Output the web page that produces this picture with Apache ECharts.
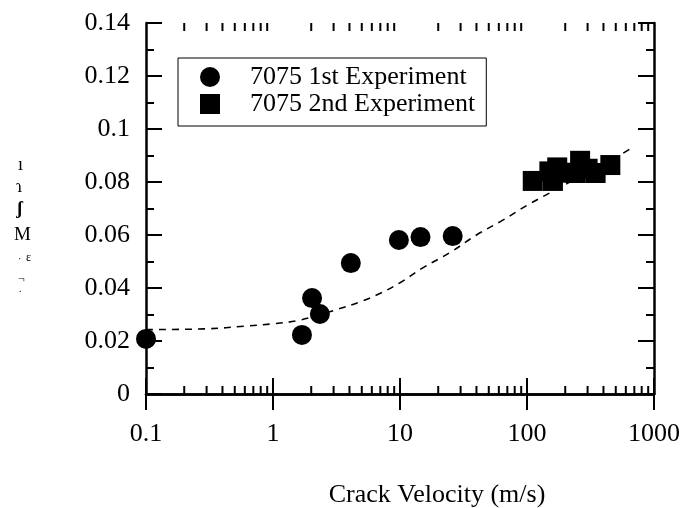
<!DOCTYPE html>
<html>
<head>
<meta charset="utf-8">
<script src="https://cdn.jsdelivr.net/npm/echarts@6/dist/echarts.min.js"></script>
<style>html,body{margin:0;padding:0;background:#fff}#c{width:683px;height:508px}</style>
</head>
<body>
<div id="c"></div>
<script>
// ---- data ----
const exp1Velocity = [0.1, 1.69, 2.03, 2.34, 4.1, 9.8, 14.5, 26];
const exp1Value    = [0.0208, 0.0223, 0.0362, 0.0302, 0.0494, 0.0581, 0.0592, 0.0596];
const exp2Velocity = [111, 150, 160, 173, 200, 242, 262, 300, 347, 453];
const exp2Value    = [0.0804, 0.0840, 0.0804, 0.0855, 0.0835, 0.0834, 0.0880, 0.0850, 0.0834, 0.0864];
const fitVelocity  = [0.1, 0.3, 0.6, 1, 1.6, 3, 5, 7, 10, 15, 25, 40, 65, 100, 150, 250, 400, 700];
const fitValue     = [0.0243, 0.0246, 0.0256, 0.0265, 0.0278, 0.0315, 0.035, 0.038, 0.042, 0.0475, 0.0535, 0.06, 0.0657, 0.0712, 0.0758, 0.0815, 0.0865, 0.0935];
const xMinorTicks  = [0.2,0.3,0.4,0.5,0.6,0.7,0.8,0.9, 2,3,4,5,6,7,8,9, 20,30,40,50,60,70,80,90, 200,300,400,500,600,700,800,900];
const seriesNames  = ['7075 1st Experiment', '7075 2nd Experiment'];
const xTitle = 'Crack Velocity (m/s)';

const FONT = 'Liberation Serif';
const FS = 26;
const chart = echarts.init(document.getElementById('c'), null, {renderer: 'canvas'});

const axisCommon = {
  axisLine: {show: true, lineStyle: {color: '#000', width: 2.5}},
  axisTick: {show: true, inside: true, length: 16, lineStyle: {color: '#000', width: 2}},
  splitLine: {show: false}
};

const fmt = v => String(+(+v).toPrecision(6));

chart.setOption({
  animation: false,
  grid: {left: 146, right: 29, top: 23, bottom: 114, containLabel: false},
  xAxis: [
    Object.assign({type: 'log', logBase: 10, min: 0.1, max: 1000, position: 'bottom',
      axisLabel: {show: true, color: '#000', fontFamily: FONT, fontSize: FS, margin: 27, formatter: fmt}}, axisCommon),
    Object.assign({type: 'log', logBase: 10, min: 0.1, max: 1000, position: 'top',
      axisLabel: {show: false}}, axisCommon)
  ],
  yAxis: [
    Object.assign({type: 'value', min: 0, max: 0.14, interval: 0.02, position: 'left',
      minorTick: {show: true, splitNumber: 2, length: 8, lineStyle: {color: '#000', width: 2}},
      axisLabel: {show: true, color: '#000', fontFamily: FONT, fontSize: FS, margin: 16, formatter: fmt}}, axisCommon),
    Object.assign({type: 'value', min: 0, max: 0.14, interval: 0.02, position: 'right',
      minorTick: {show: true, splitNumber: 2, length: 8, lineStyle: {color: '#000', width: 2}},
      axisLabel: {show: false}}, axisCommon)
  ],
  legend: {
    data: seriesNames,
    orient: 'vertical',
    left: 178, top: 58,
    padding: [6, 11, 9, 22],
    itemGap: 1,
    itemWidth: 20, itemHeight: 20,
    borderColor: '#000', borderWidth: 1,
    textStyle: {color: '#000', fontFamily: FONT, fontSize: FS, padding: [0, 0, 0, 25]},
    selectedMode: false
  },
  graphic: [
    {type: 'text', x: 437, y: 482, style: {text: xTitle, font: FS + 'px ' + FONT, fill: '#000', textAlign: 'center'}},
    {type: 'text', x: 18, y: 156, style: {text: 'ı', font: '18px ' + FONT, fill: '#000'}},
    {type: 'text', x: 16, y: 178, style: {text: 'ɿ', font: '18px ' + FONT, fill: '#000'}},
    {type: 'text', x: 17, y: 200, style: {text: 'ʃ', font: 'bold 18px ' + FONT, fill: '#000'}},
    {type: 'text', x: 14, y: 226, style: {text: 'M', font: '19px ' + FONT, fill: '#000'}},
    {type: 'text', x: 18, y: 254, style: {text: '·', font: '10px ' + FONT, fill: '#000'}},
    {type: 'text', x: 26, y: 252, style: {text: 'ε', font: '12px ' + FONT, fill: '#000'}},
    {type: 'text', x: 18, y: 274, style: {text: '¬', font: '12px ' + FONT, fill: '#000'}},
    {type: 'text', x: 19, y: 284, style: {text: '.', font: '10px ' + FONT, fill: '#000'}}
  ],
  series: [
    {
      name: 'fit', type: 'line', smooth: 0.4, showSymbol: false, symbol: 'none',
      data: fitVelocity.map((v, i) => [v, fitValue[i]]),
      lineStyle: {color: '#000', width: 1.6, type: [7, 6]}, z: 1, silent: true
    },
    {
      name: seriesNames[0], type: 'scatter', symbol: 'circle', symbolSize: 20,
      data: exp1Velocity.map((v, i) => [v, exp1Value[i]]),
      itemStyle: {color: '#000', opacity: 1}, z: 3
    },
    {
      name: seriesNames[1], type: 'scatter', symbol: 'rect', symbolSize: 20,
      data: exp2Velocity.map((v, i) => [v, exp2Value[i]]),
      itemStyle: {color: '#000', opacity: 1}, z: 3
    },
    {
      name: 'minorTicks', type: 'custom', silent: true, z: 5,
      data: xMinorTicks.map(v => [v, 0]),
      renderItem: function (params, api) {
        const x = api.coord([api.value(0), 0.07])[0];
        const cs = params.coordSys;
        const top = cs.y, bottom = cs.y + cs.height;
        const st = {stroke: '#000', lineWidth: 2};
        return {type: 'group', children: [
          {type: 'line', shape: {x1: x, y1: bottom, x2: x, y2: bottom - 8}, style: st},
          {type: 'line', shape: {x1: x, y1: top, x2: x, y2: top + 8}, style: st}
        ]};
      }
    }
  ]
});
</script>
</body>
</html>
